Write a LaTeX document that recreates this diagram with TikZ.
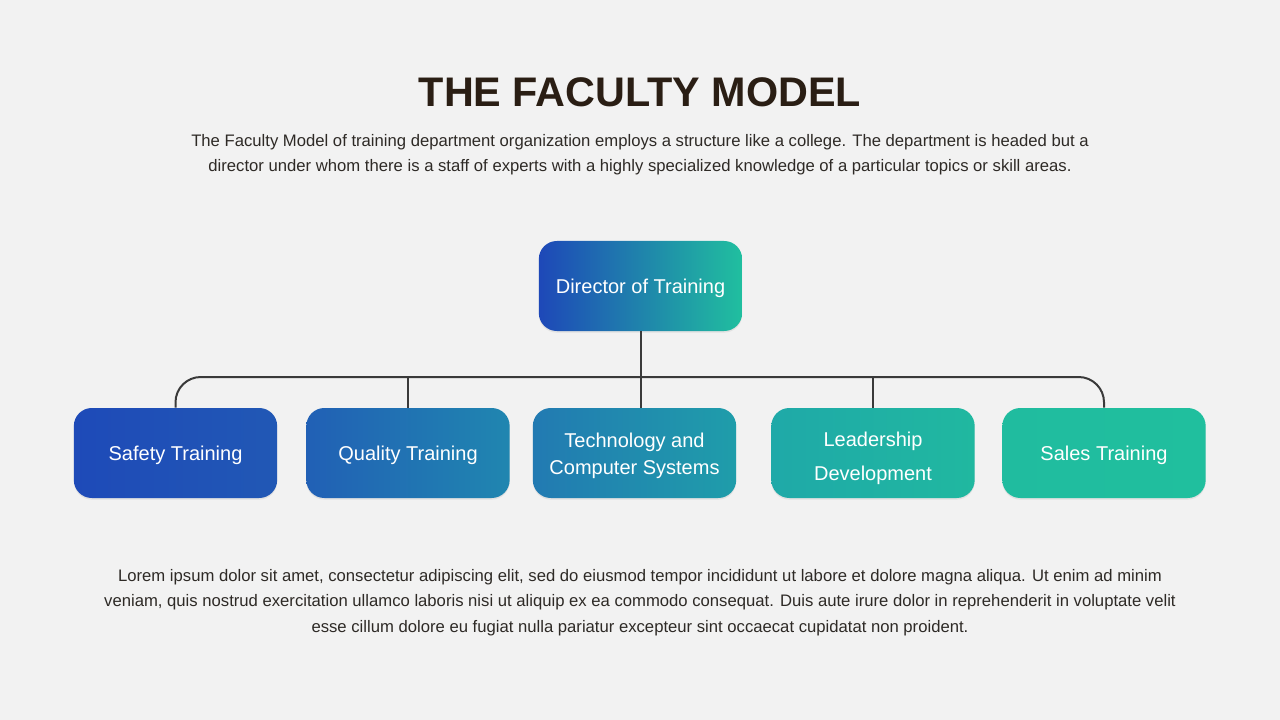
\documentclass[tikz,border=0pt]{standalone}
\usepackage{fontspec}
\setmainfont{Liberation Sans}
\usetikzlibrary{shadows}

\definecolor{pagebg}{HTML}{F2F2F2}
\definecolor{titlecol}{HTML}{2A1E14}
\definecolor{bodycol}{HTML}{2E2A26}
\definecolor{linecol}{HTML}{3A3A3A}
\definecolor{dirL}{HTML}{1E48B8}
\definecolor{dirR}{HTML}{20BF9F}
\definecolor{safeL}{HTML}{1E4AB8}
\definecolor{safeR}{HTML}{2158B5}
\definecolor{qualL}{HTML}{2160B5}
\definecolor{qualR}{HTML}{2086B0}
\definecolor{techL}{HTML}{227AB2}
\definecolor{techR}{HTML}{1F9DAA}
\definecolor{leadL}{HTML}{1FA9A8}
\definecolor{leadR}{HTML}{20B8A0}
\definecolor{saleL}{HTML}{20BC9F}
\definecolor{saleR}{HTML}{20BF9E}

\newcommand{\lift}[1]{\rule{0pt}{#1}}

\begin{document}
\begin{tikzpicture}[x=0.75pt,y=-0.75pt]
	\tikzstyle{every node}+=[inner sep=0pt]
	\tikzstyle{unit}=[rounded corners=13.5pt, minimum width=152.5pt, minimum height=67.5pt,
		align=center, text=white, font=\fontsize{15}{20}\selectfont,
		drop shadow={shadow xshift=0pt, shadow yshift=-1.2pt, opacity=0.15}]
	\tikzstyle{para}=[align=center, text=bodycol]
	\tikzstyle{conn}=[draw=linecol, line width=1.5pt]

	\fill[pagebg] (0,0) rectangle (1280,720);

	\node[text=titlecol, font=\fontsize{31}{36}\selectfont\bfseries] (title) at (640,92) {THE FACULTY MODEL};
	\node[para, font=\fontsize{12.5}{18.75}\selectfont] (intro) at (640,154.5) {The Faculty Model of training department organization employs a structure like a college. The department is headed but a\\
		director under whom there is a staff of experts with a highly specialized knowledge of a particular topics or skill areas.};

	\node[unit, left color=dirL, right color=dirR] (director) at (640.5,286) {\lift{14pt}Director of Training};
	\node[unit, left color=safeL, right color=safeR] (safety) at (175.5,453) {\lift{14pt}Safety Training};
	\node[unit, left color=qualL, right color=qualR] (quality) at (408,453) {\lift{14pt}Quality Training};
	\node[unit, left color=techL, right color=techR] (tech) at (634.5,453) {\lift{15.4pt}Technology and\\Computer Systems};
	\node[unit, left color=leadL, right color=leadR] (leader) at (873,453) {\lift{19pt}Leadership\\[5.3pt]Development};
	\node[unit, left color=saleL, right color=saleR] (sales) at (1104,453) {\lift{14pt}Sales Training};

	\coordinate (bus) at (640,377);
	\draw[conn] (director.south) -- (director.south |- tech.north);
	\draw[conn, rounded corners=19pt] (safety.north) -- (safety.north |- bus) -- (sales.north |- bus) -- (sales.north);
	\draw[conn] (quality.north) -- (quality.north |- bus);
	\draw[conn] (leader.north) -- (leader.north |- bus);

	\node[para, font=\fontsize{12.5}{19.1}\selectfont] (lorem) at (640,602.5) {Lorem ipsum dolor sit amet, consectetur adipiscing elit, sed do eiusmod tempor incididunt ut labore et dolore magna aliqua. Ut enim ad minim\\
		veniam, quis nostrud exercitation ullamco laboris nisi ut aliquip ex ea commodo consequat. Duis aute irure dolor in reprehenderit in voluptate velit\\
		esse cillum dolore eu fugiat nulla pariatur excepteur sint occaecat cupidatat non proident.};
\end{tikzpicture}
\end{document}
